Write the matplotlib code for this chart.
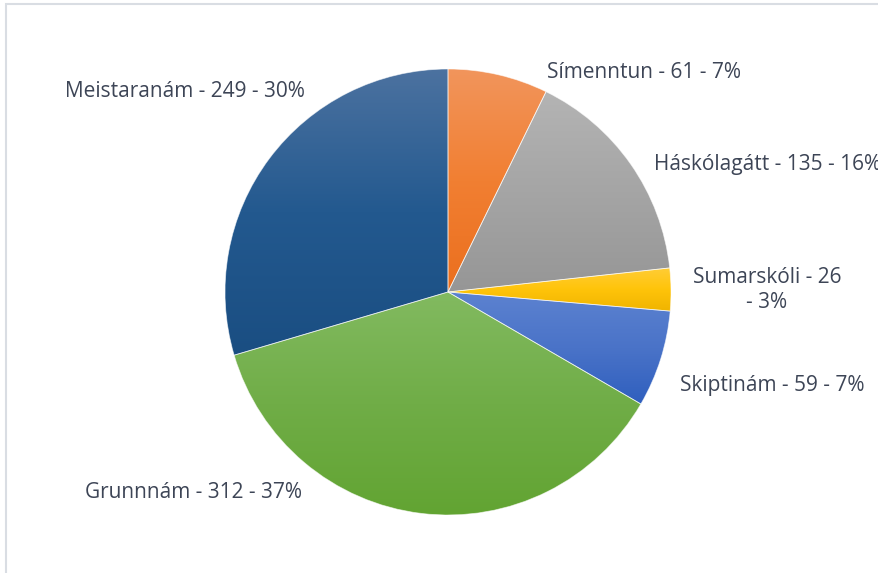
import matplotlib
matplotlib.use("Agg")
import matplotlib.pyplot as plt
import numpy as np
from matplotlib.colors import LinearSegmentedColormap
from matplotlib.patches import Rectangle

# ---- data ----
categories = ["Símenntun", "Háskólagátt", "Sumarskóli", "Skiptinám", "Grunnnám", "Meistaranám"]
values = [61, 135, 26, 59, 312, 249]
label_texts = ["Símenntun - 61 - 7%", "Háskólagátt - 135 - 16%", "Sumarskóli - 26\n- 3%",
               "Skiptinám - 59 - 7%", "Grunnnám - 312 - 37%", "Meistaranám - 249 - 30%"]

# ---- style ----
top_colors = ["#f2955c", "#b4b4b4", "#ffcd38", "#5c82d0", "#82ba60", "#4c72a0"]
mid_colors = ["#f17f32", "#a5a5a5", "#ffc40a", "#4a73c8", "#70ad47", "#23598f"]
bottom_colors = ["#eb6f1e", "#969696", "#f0b400", "#2f5fbe", "#62a432", "#1a4e82"]
# label anchor points in pie-radius units, with alignment
label_pos = [(0.445, 0.985, "left"), (0.925, 0.57, "left"), (1.43, 0.01, "center"),
             (1.455, -0.42, "center"), (-1.14, -0.90, "center"), (-1.18, 0.90, "center")]
text_color = "#3d4556"

W, H = 879, 573
fig = plt.figure(figsize=(W / 100, H / 100), dpi=100)
cx, cy, R = 448, 292, 223
ax = fig.add_axes([(cx - R) / W, (H - cy - R) / H, 2 * R / W, 2 * R / H])
ax.set_xlim(-1, 1)
ax.set_ylim(-1, 1)
ax.set_aspect("equal")
ax.axis("off")

wedges, _ = ax.pie(values, startangle=90, counterclock=False, radius=1,
                   wedgeprops=dict(linewidth=0.6, edgecolor=(1, 1, 1, 0.6)))

for w, ct, cm, cb in zip(wedges, top_colors, mid_colors, bottom_colors):
    w.set_facecolor("none")
    bb = w.get_path().get_extents(w.get_patch_transform())
    cmap = LinearSegmentedColormap.from_list("g", [cb, cm, ct])
    grad = np.linspace(0, 1, 256).reshape(-1, 1)
    im = ax.imshow(grad, cmap=cmap, origin="lower", aspect="auto",
                   extent=[bb.x0, bb.x1, bb.y0, bb.y1], zorder=0.5, interpolation="bilinear")
    im.set_clip_path(w)

ax.set_xlim(-1, 1)
ax.set_ylim(-1, 1)

for txt, (lx, ly, ha) in zip(label_texts, label_pos):
    ax.text(lx, ly, txt, ha=ha, va="center", fontsize=15, family="Open Sans",
            color=text_color, clip_on=False, linespacing=1.25, multialignment="center")

# outer chart border (light grey)
fig.patches.append(Rectangle((6.5 / W, -0.05), 1.1, (H - 3.5) / H + 0.05,
                             transform=fig.transFigure, fill=False,
                             edgecolor="#d9dde3", linewidth=1.5))

fig.savefig("out.png", dpi=100)
